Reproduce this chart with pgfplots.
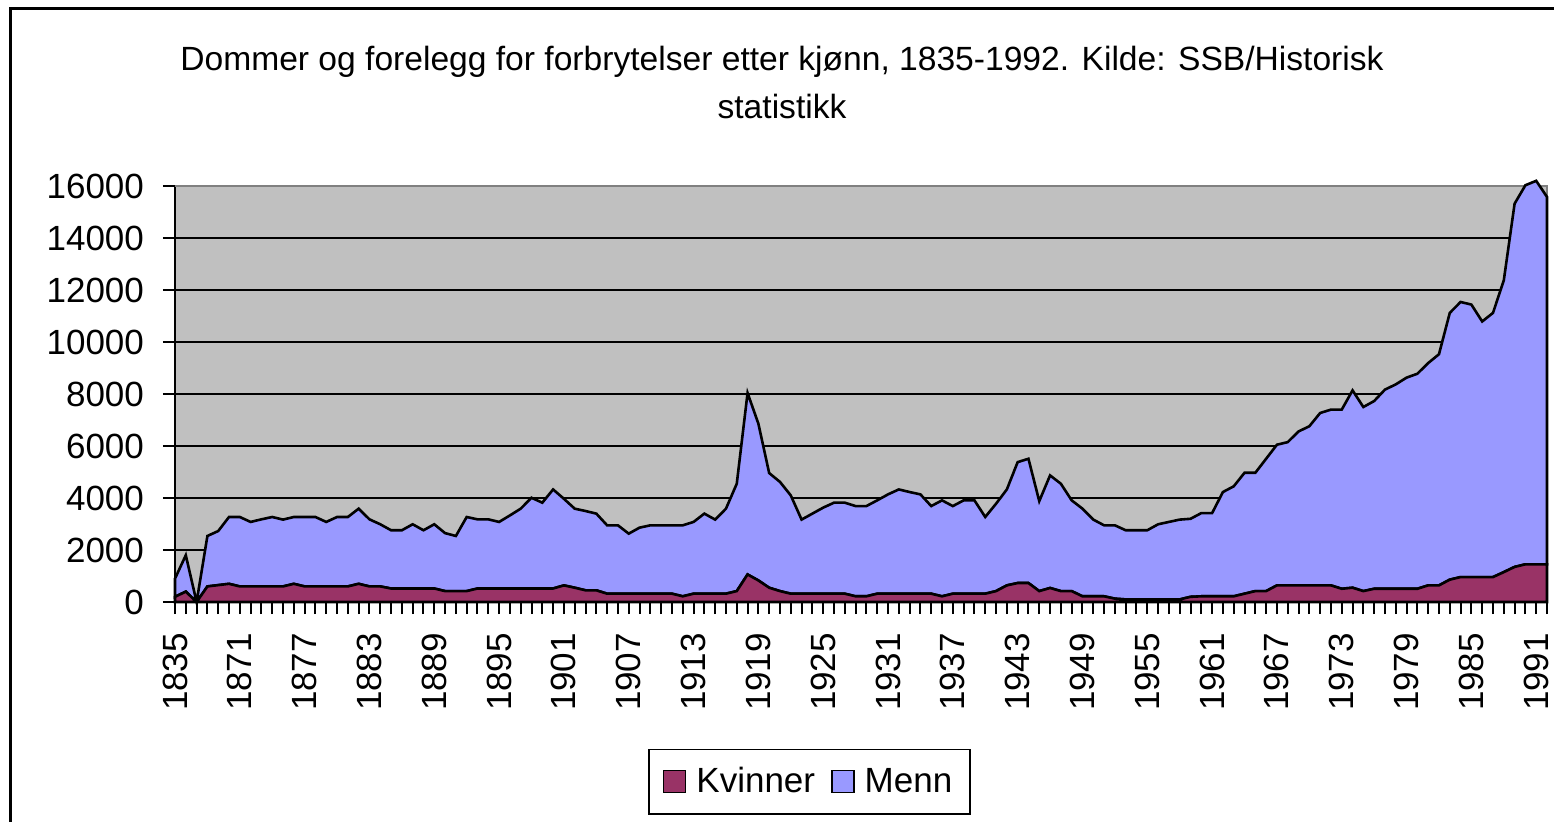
\documentclass[border=0pt]{standalone}
\usepackage{pgfplots}
\pgfplotsset{compat=1.18}
\usepackage{pgfplotstable}
\usepackage{fontspec}
\setmainfont{Liberation Sans}
\definecolor{kv}{HTML}{993366}
\definecolor{me}{HTML}{9999FF}
\definecolor{bg}{HTML}{C0C0C0}
\definecolor{bd}{HTML}{808080}
\pgfplotstableread{
i kv me
0 200 700
1 400 1400
2 0 0
3 600 1940
4 650 2080
5 700 2570
6 600 2670
7 600 2480
8 600 2580
9 600 2670
10 600 2570
11 700 2570
12 600 2670
13 600 2670
14 600 2480
15 600 2670
16 600 2670
17 700 2890
18 600 2580
19 600 2390
20 520 2240
21 520 2240
22 520 2470
23 520 2240
24 520 2470
25 420 2230
26 420 2120
27 420 2850
28 520 2660
29 520 2660
30 520 2560
31 520 2810
32 520 3070
33 520 3490
34 520 3300
35 520 3810
36 640 3330
37 550 3040
38 450 3050
39 450 2950
40 320 2630
41 320 2630
42 320 2310
43 320 2540
44 320 2630
45 320 2630
46 320 2630
47 220 2730
48 320 2760
49 320 3080
50 320 2850
51 320 3270
52 420 4130
53 1060 6980
54 830 6030
55 550 4410
56 420 4200
57 320 3780
58 320 2850
59 320 3080
60 320 3310
61 320 3500
62 320 3500
63 220 3470
64 220 3470
65 320 3590
66 320 3820
67 320 4010
68 320 3910
69 320 3820
70 320 3370
71 220 3690
72 320 3370
73 320 3590
74 320 3590
75 320 2950
76 420 3360
77 640 3690
78 730 4650
79 730 4780
80 420 3460
81 540 4330
82 420 4130
83 420 3490
84 220 3370
85 220 2950
86 220 2730
87 130 2820
88 100 2660
89 100 2660
90 100 2660
91 100 2890
92 100 2980
93 100 3070
94 200 3000
95 220 3200
96 220 3200
97 220 4010
98 220 4230
99 320 4650
100 420 4550
101 420 5090
102 640 5410
103 640 5510
104 640 5920
105 640 6120
106 640 6630
107 640 6760
108 510 6890
109 550 7590
110 420 7080
111 510 7220
112 510 7660
113 510 7860
114 510 8120
115 510 8270
116 640 8550
117 640 8890
118 860 10260
119 960 10580
120 960 10480
121 960 9830
122 960 10160
123 1150 11220
124 1350 13970
125 1450 14580
126 1450 14750
127 1450 14130
}\datatable
\begin{document}
\begin{tikzpicture}
\useasboundingbox (0,0) rectangle (777pt,-410.5pt);
\draw[line width=1.5pt] (5pt,-430pt) -- (5pt,-4pt) -- (800pt,-4pt);
\node[anchor=base, font=\fontsize{16.8}{20}\selectfont] at (391pt,-35pt) {Dommer og forelegg for forbrytelser etter kjønn, 1835-1992. Kilde: SSB/Historisk};
\node[anchor=base, font=\fontsize{16.8}{20}\selectfont] at (391pt,-59pt) {statistikk};
\begin{axis}[
  at={(87.5pt,-301pt)}, anchor=south west,
  scale only axis, width=686pt, height=208pt,
  xmin=0, xmax=127, ymin=0, ymax=16000,
  clip=false,
  stack plots=y,
  axis background/.style={fill=bg},
  axis line style={draw=none},
  ymajorgrids=true,
  grid style={black, line width=1pt},
  tick align=outside,
  xtick pos=lower, ytick pos=left,
  major tick length=6pt,
  tick style={black, line width=1pt},
  ytick={0,2000,...,16000},
  scaled y ticks=false,
  yticklabel style={/pgf/number format/1000 sep={}, font=\fontsize{17.5}{21}\selectfont, xshift=-6pt},
  /pgf/number format/assume math mode=true,
  xtick={0,...,127},
  xticklabels={},
  extra x ticks={0,6,...,126},
  extra x tick labels={1835,1871,1877,1883,1889,1895,1901,1907,1913,1919,1925,1931,1937,1943,1949,1955,1961,1967,1973,1979,1985,1991},
  extra x tick style={major tick length=0pt, xticklabel style={yshift=-12pt, rotate=90, anchor=east, font=\fontsize{17.5}{21}\selectfont}},
  legend columns=2,
  legend style={at={(0.4625,-0.4315)}, anchor=center, draw=black, line width=0.8pt,
    font=\fontsize{17.5}{21}\selectfont, inner xsep=7pt, inner ysep=7pt,
    /tikz/every odd column/.append style={column sep=3pt},
    /tikz/every even column/.append style={column sep=6pt}},
  legend image code/.code={\draw[#1,draw=black,line width=0.8pt] (0pt,-5.5pt) rectangle (11pt,5.5pt);},
]
\addplot[fill=kv, draw=black, line width=1.3pt] table[x=i,y=kv]{\datatable} \closedcycle;
\addplot[fill=me, draw=black, line width=1.3pt] table[x=i,y=me]{\datatable} \closedcycle;
\legend{Kvinner,Menn}
\draw[bd, line width=1pt] (rel axis cs:0,1) -- (rel axis cs:1,1) -- (rel axis cs:1,0);
\draw[black, line width=1pt] (rel axis cs:0,1) -- (rel axis cs:0,0) -- (rel axis cs:1,0);
\end{axis}
\end{tikzpicture}
\end{document}
